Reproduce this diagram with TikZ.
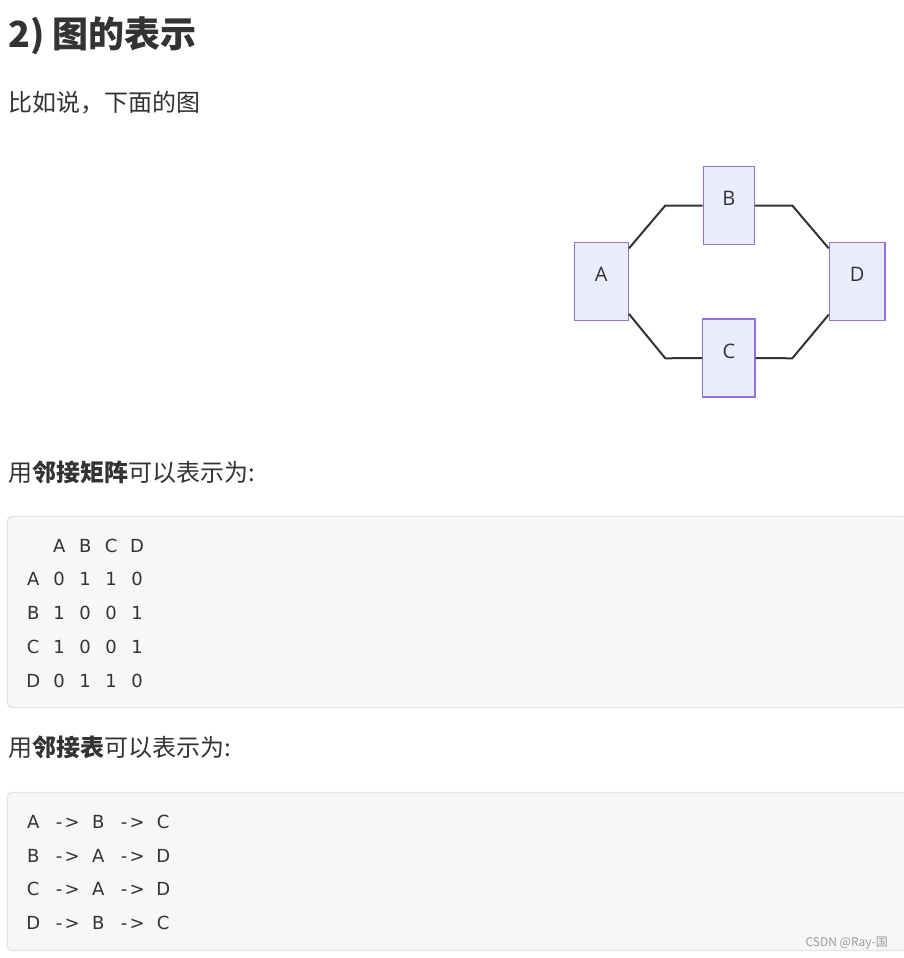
\documentclass[tikz,border=0pt]{standalone}
\usepackage{fontspec}
\setmainfont{Noto Sans CJK SC}
\newfontfamily\boxfont{Open Sans}
\newfontfamily\codefont{DejaVu Sans}
\usetikzlibrary{calc}
\definecolor{txt}{HTML}{333333}
\definecolor{nodefill}{HTML}{ECECFF}
\definecolor{nodeline}{HTML}{9370DB}
\definecolor{edgecol}{HTML}{333333}
\definecolor{codebg}{HTML}{F7F7F7}
\definecolor{codeline}{HTML}{E3E5E8}
\definecolor{wm}{HTML}{9A9A9A}
\def\monoloop#1{\ifx#1\relax\else\makebox[13pt]{\ifx#1_\else#1\fi}\expandafter\monoloop\fi}
\newcommand\monorow[1]{\monoloop#1\relax}
\tikzset{
  heading/.style={anchor=base west, inner sep=0, text=txt, font=\fontsize{36pt}{40pt}\selectfont\bfseries},
  body/.style={anchor=base west, inner sep=0, text=txt, font=\fontsize{24pt}{28pt}\selectfont},
  gbox/.style={draw=nodeline, fill=nodefill, line width=1.3pt, inner sep=0,
    text=txt, font=\boxfont\fontsize{20pt}{24pt}\selectfont, text height=14pt, text depth=14pt},
  edge/.style={draw=edgecol, line width=2pt},
  codebox/.style={draw=codeline, fill=codebg, line width=1.2pt, rounded corners=4pt},
  mono/.style={anchor=base west, inner sep=0, text=txt, font=\codefont\fontsize{18pt}{22pt}\selectfont},
  watermark/.style={anchor=base east, inner sep=0, text=wm, font=\fontsize{12pt}{14pt}\selectfont}
}
\begin{document}
\begin{tikzpicture}[x=1pt,y=-1pt]
\useasboundingbox (0,0) rectangle (903,958);
\fill[white] (0,0) rectangle (903,958);

\node[heading] (title) at (8,48) {2) 图的表示};
\node[body] (intro) at (8,111) {比如说，下面的图};

% graph
\node[gbox, minimum width=54pt, minimum height=78pt] (A) at (601.3,281.7) {A};
\node[gbox, minimum width=51pt, minimum height=77.6pt] (B) at (728.8,205.5) {B};
\node[gbox, minimum width=52.3pt, minimum height=78pt] (C) at (728.8,358) {C};
\node[gbox, minimum width=55.7pt, minimum height=78pt] (D) at (857.2,281.7) {D};

\coordinate (ab) at (665.3,205.5);
\coordinate (bd) at (792.3,205.5);
\coordinate (ac) at (665.3,358.3);
\coordinate (cd) at (792.3,358.3);

\draw[edge] ($(A.north east)+(0,6.3)$) -- (ab) -- (B.west);
\draw[edge] (B.east) -- (bd) -- ($(D.north west)+(0,6.3)$);
\draw[edge] ($(A.south east)+(0,-7.4)$) -- (ac) -- (C.west);
\draw[edge] (C.east) -- (cd) -- ($(D.south west)+(0,-6.7)$);

% adjacency matrix
\node[body] (mtxlabel) at (8,481.5) {用\textbf{邻接矩阵}可以表示为:};
\draw[codebox] (7.5,516.5) rectangle (915,707.5);
\node[mono] (m0) at (26.5,552) {\monorow{__A_B_C_D}};
\node[mono] (m1) at (26.5,585.5) {\monorow{A_0_1_1_0}};
\node[mono] (m2) at (26.5,619) {\monorow{B_1_0_0_1}};
\node[mono] (m3) at (26.5,653) {\monorow{C_1_0_0_1}};
\node[mono] (m4) at (26.5,687) {\monorow{D_0_1_1_0}};

% adjacency list
\node[body] (lstlabel) at (8,756) {用\textbf{邻接表}可以表示为:};
\draw[codebox] (7.5,792.5) rectangle (915,950.5);
\node[mono] (l1) at (26.5,828) {\monorow{A_->_B_->_C}};
\node[mono] (l2) at (26.5,862) {\monorow{B_->_A_->_D}};
\node[mono] (l3) at (26.5,895.5) {\monorow{C_->_A_->_D}};
\node[mono] (l4) at (26.5,929) {\monorow{D_->_B_->_C}};

\node[watermark] (wmk) at (888,946) {CSDN @Ray-国};
\end{tikzpicture}
\end{document}
